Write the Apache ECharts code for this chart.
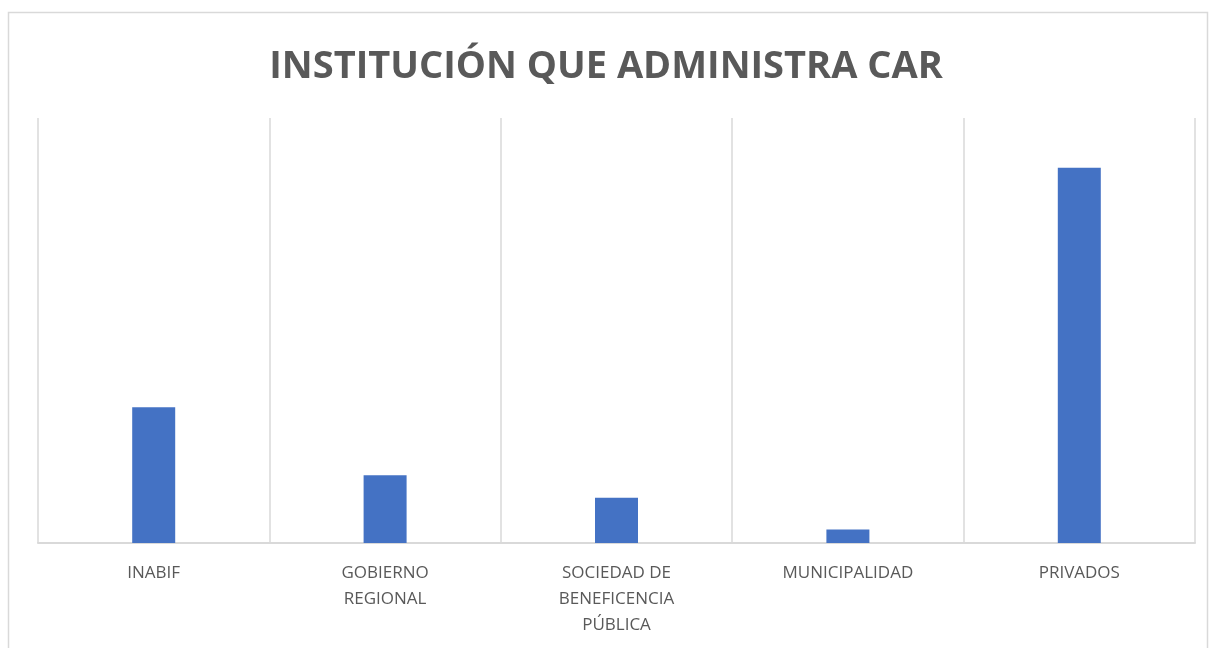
<!DOCTYPE html>
<html>
<head>
<meta charset="utf-8">
<script src="https://cdn.jsdelivr.net/npm/echarts@6/dist/echarts.min.js"></script>
<style>
  html, body { margin: 0; padding: 0; background: #fff; }
  #chart { width: 1212px; height: 648px; }
</style>
</head>
<body>
<div id="chart"></div>
<script>
const categories = ['INABIF', 'GOBIERNO\nREGIONAL', 'SOCIEDAD DE\nBENEFICENCIA\nPÚBLICA', 'MUNICIPALIDAD', 'PRIVADOS']
const values = [30, 15, 10, 3, 83]
const axisMax = 94

const chart = echarts.init(document.getElementById('chart'))
chart.setOption({
  animation: false,
  title: {
    text: 'INSTITUCIÓN QUE ADMINISTRA CAR',
    left: 'center',
    top: 43,
    textStyle: {
      fontFamily: 'Open Sans',
      fontWeight: 'bold',
      fontSize: 38,
      color: '#595959'
    }
  },
  graphic: [{
    type: 'rect',
    shape: { x: 8.5, y: 12.5, width: 1199, height: 700 },
    style: { fill: 'none', stroke: '#d9d9d9', lineWidth: 1.5 },
    silent: true
  }],
  grid: { left: 38, right: 17, top: 118, bottom: 105 },
  xAxis: {
    type: 'category',
    data: categories,
    axisLine: { lineStyle: { color: '#d9d9d9', width: 2 } },
    axisTick: { show: false },
    splitLine: { show: true, lineStyle: { color: '#d9d9d9', width: 1.5 } },
    axisLabel: {
      interval: 0,
      margin: 17,
      fontFamily: 'Open Sans',
      fontSize: 17,
      lineHeight: 26,
      color: '#595959'
    }
  },
  yAxis: {
    type: 'value',
    min: 0,
    max: axisMax,
    show: false,
    splitLine: { show: false }
  },
  series: [{
    type: 'bar',
    data: values,
    barWidth: 43,
    itemStyle: { color: '#4472C4' }
  }]
})
</script>
</body>
</html>
